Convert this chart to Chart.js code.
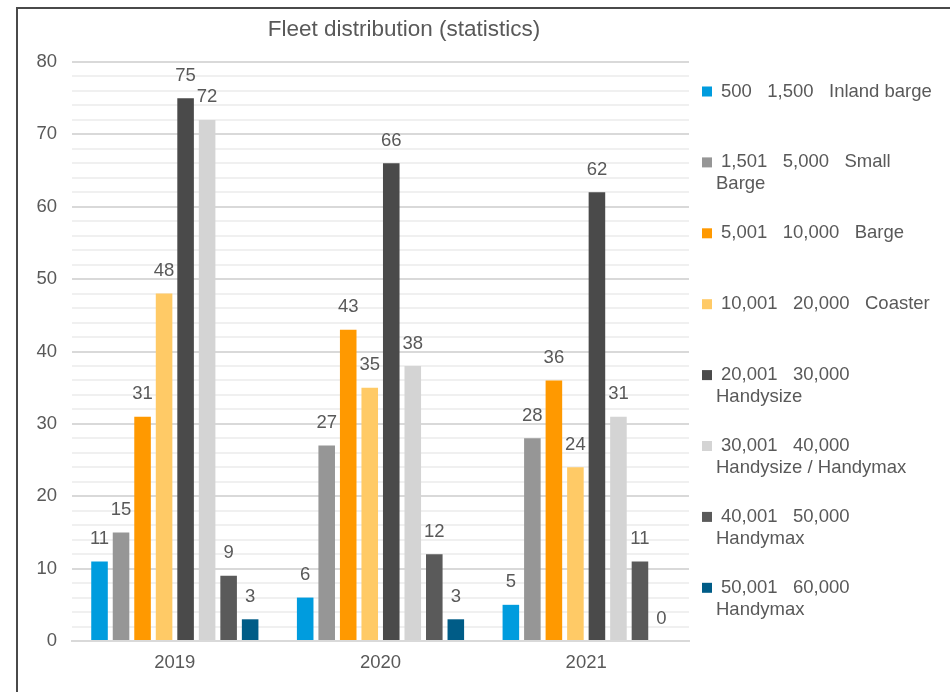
<!DOCTYPE html>
<html>
<head>
<meta charset="utf-8">
<title>Fleet distribution</title>
<script src="https://cdn.jsdelivr.net/npm/chart.js@4.4.1/dist/chart.umd.min.js"></script>
<style>
  body { margin: 0; background: #fff; overflow: hidden; }
  .frame {
    position: absolute; left: 16px; top: 7px;
    width: 932px; height: 683px;
    border-left: 2px solid #4a4a4a; border-top: 2px solid #4a4a4a;
  }
</style>
</head>
<body>
<div class="frame">
  <canvas id="fleetChart" width="932" height="683"></canvas>
</div>
<script>
// years on the x axis
var years = ["2019", "2020", "2021"];

// one array per ship size class (values for 2019, 2020, 2021)
var inlandBarge = [11, 6, 5];
var smallBarge = [15, 27, 28];
var barge = [31, 43, 36];
var coaster = [48, 35, 24];
var handysize = [75, 66, 62];
var handysizeMax = [72, 38, 31];
var handymax40 = [9, 12, 11];
var handymax50 = [3, 3, 0];

// legend text, split in lines like the original
var classLabels = [
  ["500   1,500   Inland barge"],
  ["1,501   5,000   Small", "Barge"],
  ["5,001   10,000   Barge"],
  ["10,001   20,000   Coaster"],
  ["20,001   30,000", "Handysize"],
  ["30,001   40,000", "Handysize / Handymax"],
  ["40,001   50,000", "Handymax"],
  ["50,001   60,000", "Handymax"]
];

var yTicks = [0, 10, 20, 30, 40, 50, 60, 70, 80];

var classColors = ["#009cde", "#969696", "#ff9900", "#ffca66", "#4a4a4a", "#d4d4d4", "#5a5a5a", "#005c87"];
var seriesValues = [inlandBarge, smallBarge, barge, coaster, handysize, handysizeMax, handymax40, handymax50];

var textColor = "#595959";
var fontFamily = "'Liberation Sans', Arial, sans-serif";

var datasets = seriesValues.map(function (vals, i) {
  return {
    label: classLabels[i].join(" "),
    data: vals,
    backgroundColor: classColors[i],
    borderWidth: 0,
    categoryPercentage: 0.837,
    barPercentage: 0.77
  };
});

// title drawn by hand so it can sit off-centre like the original
var titlePlugin = {
  id: "titleText",
  afterDraw: function (chart) {
    var ctx = chart.ctx;
    ctx.save();
    ctx.fillStyle = textColor;
    ctx.font = "22.5px " + fontFamily;
    ctx.textAlign = "center";
    ctx.textBaseline = "middle";
    ctx.fillText("Fleet distribution (statistics)", 386, 21);
    ctx.restore();
  }
};

// value labels above each bar
var valueLabels = {
  id: "valueLabels",
  afterDatasetsDraw: function (chart) {
    var ctx = chart.ctx;
    ctx.save();
    ctx.fillStyle = textColor;
    ctx.font = "18.5px " + fontFamily;
    ctx.textAlign = "center";
    ctx.textBaseline = "middle";
    chart.data.datasets.forEach(function (ds, i) {
      var meta = chart.getDatasetMeta(i);
      meta.data.forEach(function (bar, j) {
        ctx.fillText(ds.data[j], bar.x, bar.y - 22.5);
      });
    });
    ctx.restore();
  }
};

// legend on the right with wrapped lines
var sideLegend = {
  id: "sideLegend",
  afterDraw: function (chart) {
    var ctx = chart.ctx;
    var left = chart.chartArea.right + 13;
    var top = 82.5;
    var pitch = 70.9;
    ctx.save();
    ctx.font = "18.5px " + fontFamily;
    ctx.textBaseline = "middle";
    classLabels.forEach(function (lines, i) {
      var y = top + i * pitch;
      ctx.fillStyle = classColors[i];
      ctx.fillRect(left, y - 5, 10, 10);
      ctx.fillStyle = textColor;
      lines.forEach(function (line, k) {
        ctx.fillText(line, k == 0 ? left + 19 : left + 14, y + k * 21.7);
      });
    });
    ctx.restore();
  }
};

var fleetChart = new Chart(document.getElementById("fleetChart"), {
  type: "bar",
  data: {
    labels: years,
    datasets: datasets
  },
  plugins: [titlePlugin, valueLabels, sideLegend],
  options: {
    responsive: false,
    animation: false,
    layout: {
      padding: { top: 53, right: 261, bottom: 0, left: 0 }
    },
    plugins: {
      legend: { display: false },
      title: { display: false },
      tooltip: { enabled: false }
    },
    scales: {
      x: {
        grid: { display: false, drawTicks: false },
        border: { color: "#d9d9d9", width: 2 },
        ticks: {
          color: textColor,
          font: { family: fontFamily, size: 18.5 },
          padding: 11
        },
        afterFit: function (scale) { scale.height = 51; }
      },
      y: {
        min: yTicks[0],
        max: yTicks[yTicks.length - 1],
        border: { display: false },
        grid: {
          drawTicks: false,
          lineWidth: 2,
          color: function (c) {
            return yTicks.indexOf(c.tick.value) >= 0 ? "#d9d9d9" : "#f0f0f0";
          }
        },
        ticks: {
          stepSize: 2,
          autoSkip: false,
          color: textColor,
          font: { family: fontFamily, size: 18.5 },
          padding: 15,
          callback: function (v) {
            return yTicks.indexOf(v) >= 0 ? v : "";
          }
        },
        afterFit: function (scale) { scale.width = 54; }
      }
    }
  }
});
</script>
</body>
</html>
